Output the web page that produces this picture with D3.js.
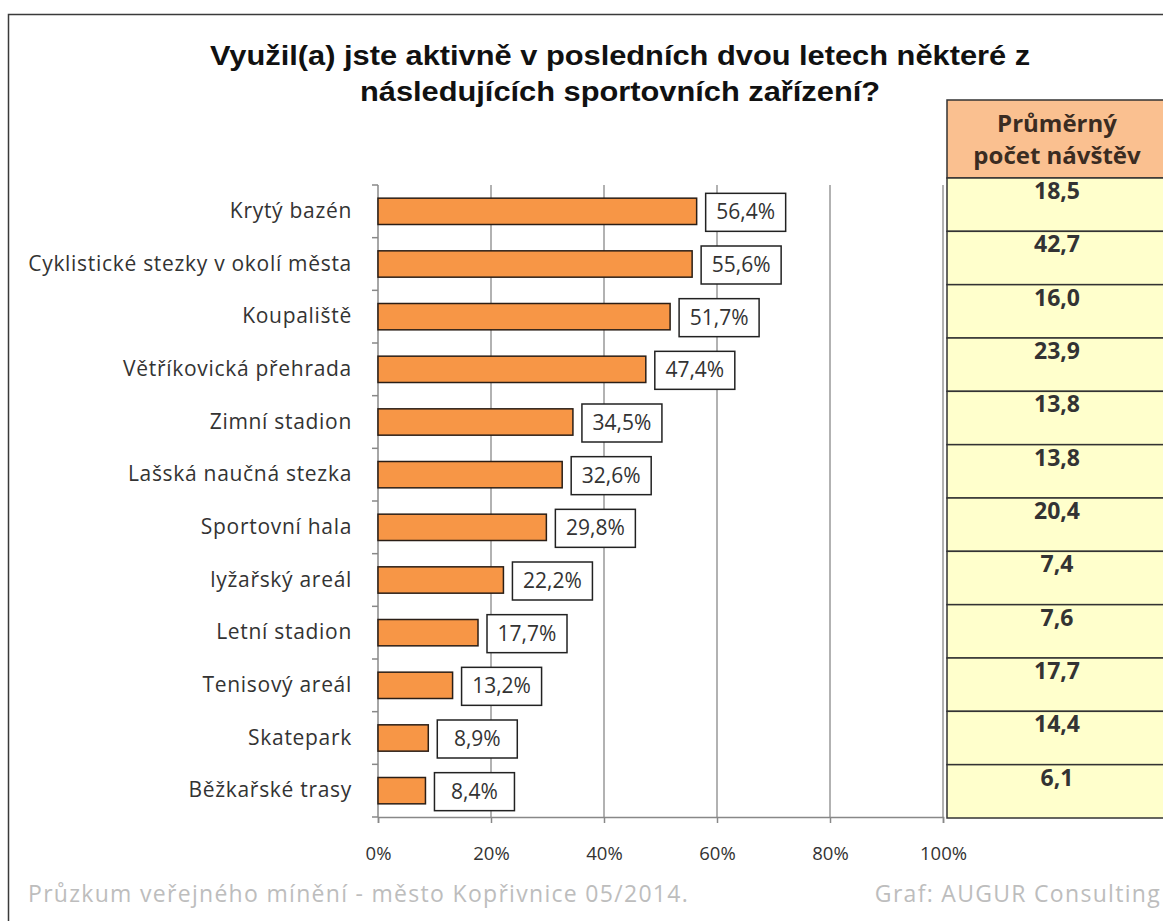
<!DOCTYPE html>
<html>
<head>
<meta charset="utf-8">
<script src="https://cdn.jsdelivr.net/npm/d3@7"></script>
<style>
  body { margin: 0; background: #fff; }
  text { font-family: "Open Sans", Lato, sans-serif; }
</style>
</head>
<body>
<div id="chart"></div>
<script>
const categories = ['Krytý bazén', 'Cyklistické stezky v okolí města', 'Koupaliště',
  'Větříkovická přehrada', 'Zimní stadion', 'Lašská naučná stezka', 'Sportovní hala',
  'lyžařský areál', 'Letní stadion', 'Tenisový areál', 'Skatepark', 'Běžkařské trasy'];
const shares = [56.4, 55.6, 51.7, 47.4, 34.5, 32.6, 29.8, 22.2, 17.7, 13.2, 8.9, 8.4];
const visits = [18.5, 42.7, 16.0, 23.9, 13.8, 13.8, 20.4, 7.4, 7.6, 17.7, 14.4, 6.1];
const xTicks = [0, 20, 40, 60, 80, 100];
const titleLines = ['Využil(a) jste aktivně v posledních dvou letech některé z',
  'následujících sportovních zařízení?'];
const tableHeader = ['Průměrný', 'počet návštěv'];
const footerLeft = 'Průzkum veřejného mínění - město Kopřivnice 05/2014.';
const footerRight = 'Graf: AUGUR Consulting';

const W = 1163, H = 921;
const plot = {left: 378, right: 943, top: 185, bottom: 817};
const comma = v => d3.format('.1f')(v).replace('.', ',');

const svg = d3.select('#chart').append('svg')
  .attr('width', W)
  .attr('height', H);

svg.append('rect')
  .attr('width', W).attr('height', H)
  .attr('fill', '#fff');

// outer frame, runs off the right and bottom edges
svg.append('rect')
  .attr('x', 8.5).attr('y', 14.5)
  .attr('width', 1300).attr('height', 1200)
  .attr('fill', 'none')
  .attr('stroke', '#3a3a3a')
  .attr('stroke-width', 1.5);

// title is a bit wider than plain Arial, so stretch it a little
svg.append('g').selectAll('text')
  .data(titleLines)
  .enter().append('text')
    .attr('transform', (d, i) => `translate(620,${65 + i * 36}) scale(1.1,1)`)
    .attr('text-anchor', 'middle')
    .style('font-family', '"Liberation Sans", Arial, sans-serif')
    .style('font-weight', 'bold')
    .style('font-size', '28px')
    .style('fill', '#111')
    .text(d => d);

const x = d3.scaleLinear()
  .domain([0, 100])
  .range([plot.left, plot.right]);

const y = d3.scaleBand()
  .domain(categories)
  .range([plot.top, plot.bottom])
  .paddingInner(0.5)
  .paddingOuter(0.25);

// gridlines
svg.append('g').selectAll('line')
  .data(xTicks.slice(1))
  .enter().append('line')
    .attr('x1', d => x(d)).attr('x2', d => x(d))
    .attr('y1', plot.top).attr('y2', plot.bottom)
    .attr('stroke', '#999')
    .attr('stroke-width', 1.5);

// table at the right
const tableX = 947, tableW = 222;
const row = d3.scaleBand()
  .domain(categories)
  .range([178, 818]);

const table = svg.append('g');
table.append('rect')
  .attr('x', tableX).attr('y', 100)
  .attr('width', tableW).attr('height', 78)
  .attr('fill', '#fac090')
  .attr('stroke', '#333').attr('stroke-width', 1.5);
table.selectAll('.head')
  .data(tableHeader)
  .enter().append('text')
    .attr('class', 'head')
    .attr('x', tableX + 110)
    .attr('y', (d, i) => 132 + i * 32)
    .attr('text-anchor', 'middle')
    .style('font-weight', 'bold')
    .style('font-size', '24px')
    .style('fill', '#3a2c22')
    .text(d => d);

table.selectAll('.cell')
  .data(categories)
  .enter().append('rect')
    .attr('class', 'cell')
    .attr('x', tableX)
    .attr('y', d => row(d))
    .attr('width', tableW)
    .attr('height', row.bandwidth())
    .attr('fill', '#ffffcc')
    .attr('stroke', '#333')
    .attr('stroke-width', 1.5);

table.selectAll('.val')
  .data(categories)
  .enter().append('text')
    .attr('class', 'val')
    .attr('x', tableX + 110)
    .attr('y', d => row(d) + 21)
    .attr('text-anchor', 'middle')
    .style('font-weight', 'bold')
    .style('font-size', '23px')
    .style('fill', '#333')
    .text((d, i) => comma(visits[i]));

// axes
const xAxis = d3.axisBottom(x)
  .tickValues(xTicks)
  .tickSize(6)
  .tickFormat(d => d + '%');

const yAxis = d3.axisLeft(y)
  .tickSize(0)
  .tickPadding(26);

const gx = svg.append('g')
  .attr('transform', `translate(0,${plot.bottom})`)
  .call(xAxis);
gx.select('.domain').attr('stroke', '#888').attr('stroke-width', 1.5);
gx.selectAll('.tick line').attr('stroke', '#888').attr('stroke-width', 1.5);
gx.selectAll('.tick text')
  .attr('dy', null)
  .attr('y', 43)
  .style('font-family', '"Open Sans", sans-serif')
  .style('font-size', '18.5px')
  .style('fill', '#333');

const gy = svg.append('g')
  .attr('transform', `translate(${plot.left},0)`)
  .call(yAxis);
gy.select('.domain').remove();
gy.selectAll('.tick text')
  .style('font-family', '"Open Sans", sans-serif')
  .style('font-size', '21px')
  .style('letter-spacing', '0.7px')
  .style('fill', '#333');

gy.append('line')
  .attr('y1', plot.top).attr('y2', plot.bottom)
  .attr('stroke', '#888').attr('stroke-width', 1.5);

// separators between category bands, plus both ends
const edges = categories.map(d => y(d) - y.step() * y.paddingInner() / 2).concat([plot.bottom]);
gy.selectAll('.sep')
  .data(edges)
  .enter().append('line')
    .attr('class', 'sep')
    .attr('x1', -6).attr('x2', 0)
    .attr('y1', d => d).attr('y2', d => d)
    .attr('stroke', '#888').attr('stroke-width', 1.5);

// bars
svg.append('g').selectAll('.bar')
  .data(categories)
  .enter().append('rect')
    .attr('class', 'bar')
    .attr('x', x(0))
    .attr('y', d => y(d))
    .attr('width', (d, i) => x(shares[i]) - x(0))
    .attr('height', y.bandwidth())
    .attr('fill', '#f79646')
    .attr('stroke', '#2a1e16')
    .attr('stroke-width', 1.5);

// value boxes
const boxes = svg.append('g').selectAll('.lbl')
  .data(categories)
  .enter().append('g')
    .attr('class', 'lbl')
    .attr('transform', (d, i) =>
      `translate(${x(shares[i]) + 9},${y(d) + y.bandwidth() / 2 - 18})`);
boxes.append('rect')
  .attr('width', 80).attr('height', 38)
  .attr('fill', '#fff')
  .attr('stroke', '#222').attr('stroke-width', 1.5);
boxes.append('text')
  .attr('x', 40).attr('y', 26)
  .attr('text-anchor', 'middle')
  .style('font-size', '21px')
  .style('fill', '#333')
  .text((d, i) => comma(shares[i]) + '%');

// footer
svg.append('text')
  .attr('x', 28).attr('y', 902)
  .style('font-size', '23px')
  .style('letter-spacing', '1.3px')
  .style('fill', '#bdbdbd')
  .text(footerLeft);
svg.append('text')
  .attr('x', 1161).attr('y', 902)
  .attr('text-anchor', 'end')
  .style('font-size', '23px')
  .style('letter-spacing', '1.3px')
  .style('fill', '#bdbdbd')
  .text(footerRight);
</script>
</body>
</html>
